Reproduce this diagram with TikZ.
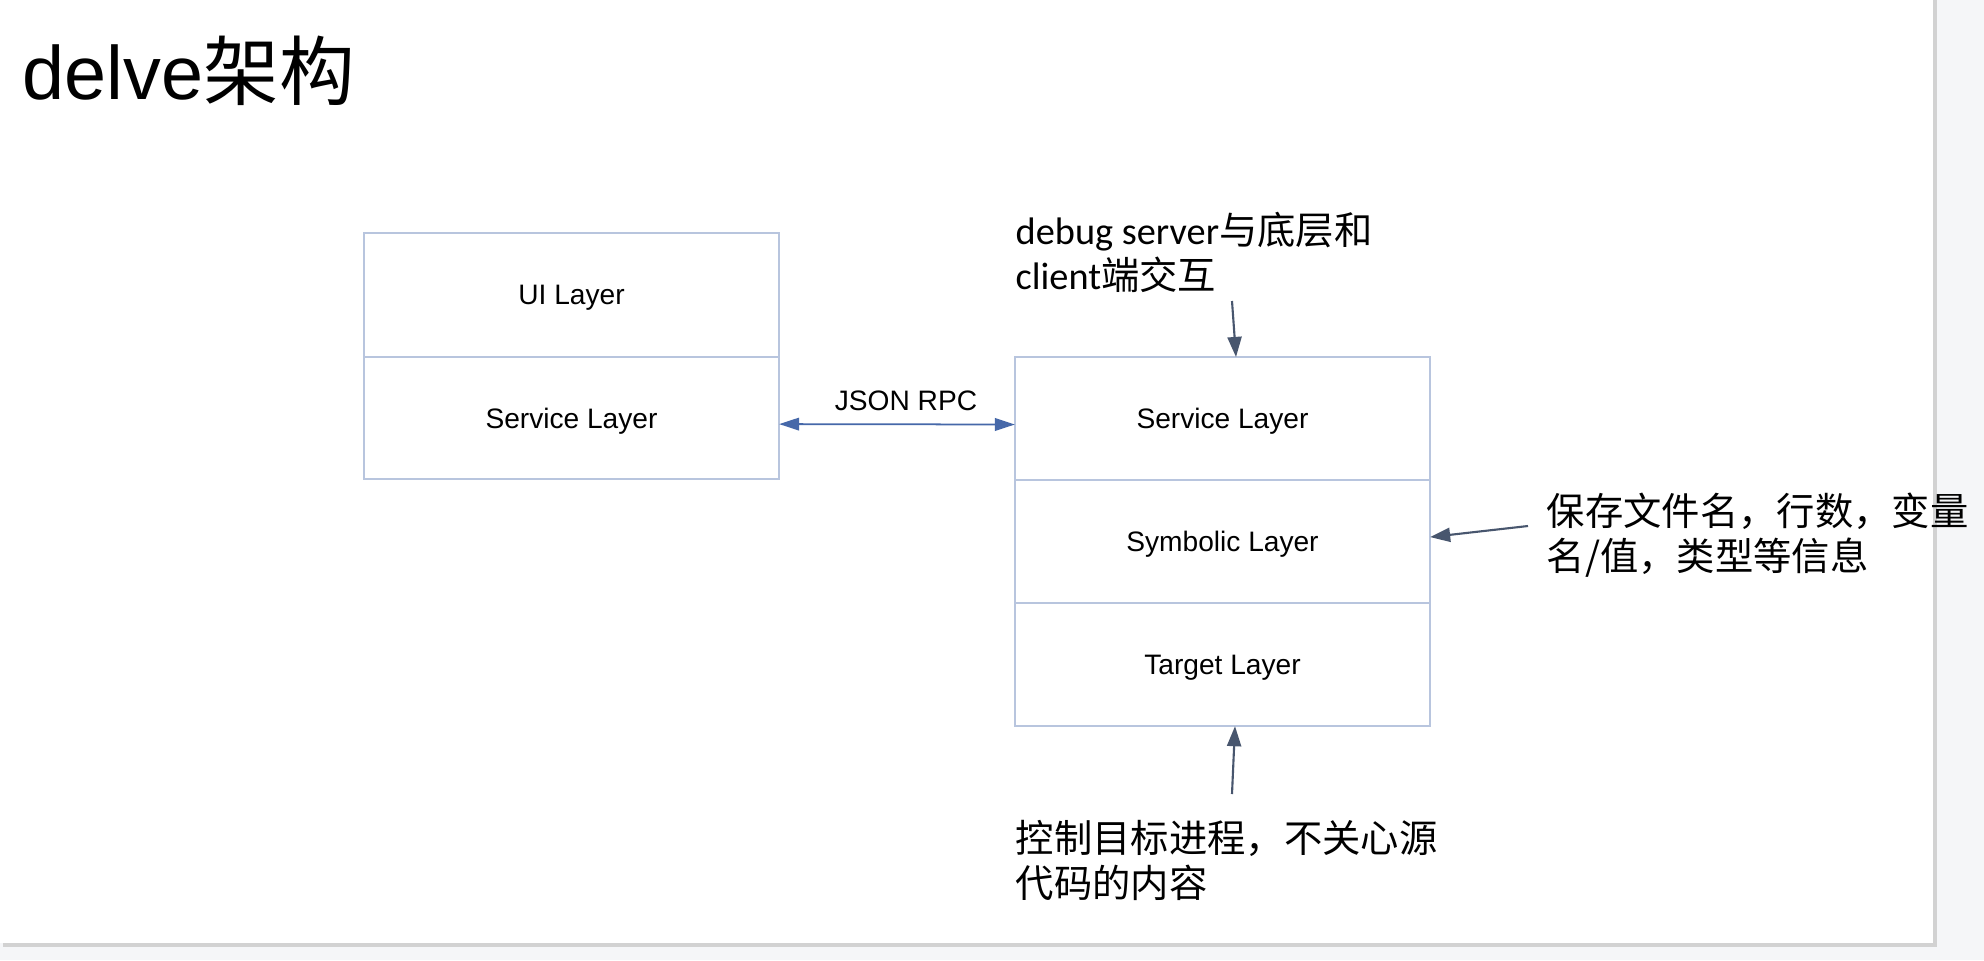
\documentclass[tikz,border=0pt]{standalone}
\usepackage{fontspec}
\setmainfont{Liberation Sans}
\newfontfamily\cjk{Noto Sans CJK SC}
\newfontfamily\lat{Carlito}
\usetikzlibrary{positioning,arrows.meta}
\definecolor{boxline}{HTML}{B8C5DE}
\definecolor{rpcblue}{HTML}{4668A9}
\definecolor{noteline}{HTML}{48566E}
\definecolor{outside}{HTML}{F5F6F8}
\definecolor{shadowgray}{HTML}{D2D2D2}
\begin{document}
\begin{tikzpicture}[x=0.01cm, y=-0.01cm,
    layer/.style={draw=boxline, line width=0.4pt, minimum width=4.15cm, minimum height=1.23cm,
      inner sep=0pt, outer sep=0pt, text depth=0pt, font=\fontsize{8pt}{9.6pt}\selectfont},
    note/.style={anchor=west, align=left, inner sep=0pt, font=\cjk\fontsize{10.9pt}{12.8pt}\selectfont},
    notearrow/.style={draw=noteline, line width=0.6pt, -{Triangle[length=5.7pt,width=4pt]}, fill=noteline}]
    % page and background
    \fill [outside] (0,0) rectangle (1984,960);
    \fill [shadowgray] (3,0) rectangle (1937,947);
    \fill [white] (0,0) rectangle (1933,943);
    \useasboundingbox (0,0) rectangle (1984,960);
    % title
    \node [anchor=base west, inner sep=0pt, font=\fontsize{21.5pt}{25pt}\selectfont] (title) at (22,99) {delve{\cjk 架构}};
    % client side
    \node [layer, minimum height=1.24cm] (ui) at (571.5,295) {UI Layer};
    \node [layer, minimum height=1.22cm, below=0pt of ui] (svcL) {Service Layer};
    % server side
    \node [layer] (svcR) at (1222.5,418.5) {Service Layer};
    \node [layer, below=0pt of svcR] (sym) {Symbolic Layer};
    \node [layer, below=0pt of sym] (tgt) {Target Layer};
    % rpc link
    \draw [rpcblue, line width=0.5pt, {Triangle[length=5.7pt,width=3.6pt]}-{Triangle[length=5.7pt,width=3.6pt]}]
      ([yshift=-0.06cm]svcL.east) -- ([yshift=-0.06cm]svcR.west)
      node [midway, above=0.01cm, xshift=0.09cm, black, font=\fontsize{8pt}{9.6pt}\selectfont] (rpc) {JSON RPC};
    % notes
    \node [note] (topnote) at (1015,252) {{\lat debug server}与底层和\\{\lat client}端交互};
    \node [note] (symnote) at (1546,535) {保存文件名，行数，变量\\名/值，类型等信息};
    \node [note] (tgtnote) at (1015,860) {控制目标进程，不关心源\\代码的内容};
    \coordinate (topfrom) at (1232,301);
    \coordinate (symfrom) at (1528,526);
    \coordinate (tgtfrom) at (1232,794);
    \draw [notearrow] (topfrom) -- ([xshift=0.135cm]svcR.north);
    \draw [notearrow] (symfrom) -- ([yshift=0.045cm]sym.east);
    \draw [notearrow] (tgtfrom) -- ([xshift=0.125cm]tgt.south);
\end{tikzpicture}
\end{document}
